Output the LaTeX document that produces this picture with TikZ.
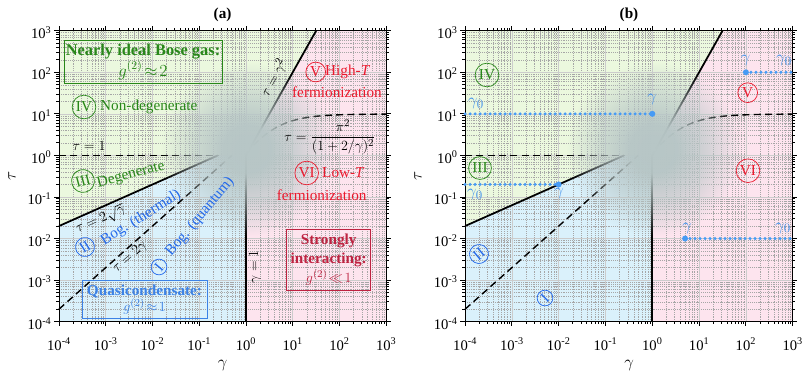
\documentclass[tikz,border=0pt]{standalone}
\usepackage{fontspec}
\setmainfont{Liberation Serif}
\usetikzlibrary{fadings}
\definecolor{grn}{RGB}{40,135,25}
\definecolor{blu}{RGB}{35,105,235}
\definecolor{redt}{RGB}{235,25,45}
\definecolor{boxred}{RGB}{190,35,65}
\definecolor{boxblu}{RGB}{60,130,230}
\definecolor{gfill}{RGB}{235,248,222}
\definecolor{bfill}{RGB}{218,241,251}
\definecolor{pfill}{RGB}{253,228,238}
\definecolor{blurcol}{RGB}{183,198,198}
\definecolor{bluedot}{RGB}{70,155,245}
\definecolor{bluelab}{RGB}{65,145,235}
\pgfdeclareradialshading{blurshade}{\pgfpointorigin}{rgb(0bp)=(1,1,1); rgb(7bp)=(0.97,0.97,0.97); rgb(15bp)=(0.6,0.6,0.6); rgb(25bp)=(0,0,0); rgb(50bp)=(0,0,0)}
\pgfdeclarefading{blurfade}{\pgfuseshading{blurshade}}
\tikzset{
  mingrid/.style={draw=gray!70, line width=0.3pt, dash pattern=on 0.4pt off 1.2pt},
  majgrid/.style={draw=gray!40, line width=0.5pt},
  solidc/.style={line width=1.5pt},
  dashc/.style={line width=1.2pt, dash pattern=on 2.1mm off 1.3mm},
  frame/.style={line width=0.8pt},
  ticklab/.style={font=\fontsize{12.5}{14}\selectfont, inner sep=0pt},
  rnum/.style={circle, draw=#1, text=#1, inner sep=0.5mm, line width=0.6pt},
  bdot/.style={draw=bluedot, line width=1mm, line cap=round, dash pattern=on 0pt off 1.5mm},
  lbox/.style={draw=#1, text=#1, line width=0.8pt, align=center, inner sep=0.5pt},
  glab/.style={text=bluelab, font=\fontsize{15}{17}\selectfont}
}
\newcommand\panelbase[1]{%
\fill[gfill] (-4,-1.699) -- (-0.602,0) -- (0,0) -- (1.5,3) -- (-4,3) -- cycle;
\fill[bfill] (-4,-4) -- (0,-4) -- (0,0) -- (-0.602,0) -- (-4,-1.699) -- cycle;
\fill[pfill] (0,-4) -- (3,-4) -- (3,3) -- (1.5,3) -- (0,0) -- cycle;
\foreach \k in {-4,...,2}{\foreach \m in {0.30103,0.47712,0.60206,0.69897,0.77815,0.8451,0.90309,0.95424}{%
  \draw[mingrid] (\k+\m,-4) -- (\k+\m,3);
  \draw[mingrid] (-4,\k+\m) -- (3,\k+\m);
  \draw[frame] (\k+\m,-4) -- ++(0pt,-0.8mm) (\k+\m,3) -- ++(0pt,0.8mm) (-4,\k+\m) -- ++(-0.8mm,0pt) (3,\k+\m) -- ++(0.8mm,0pt);
}}
\foreach \k in {-3,...,2}{\draw[majgrid] (\k,-4) -- (\k,3) (-4,\k) -- (3,\k);}
\draw[dashc] (-4,0) -- (-0.602,0);
\draw[dashc] (-4,-3.699) -- (-0.301,0);
\draw[dashc] plot[domain=0:3,samples=50,smooth] (\x,{0.99432-2*log10(1+2/pow(10,\x))});
\draw[solidc] (-4,-1.699) -- (-0.602,0);
\draw[solidc] (0,-4) -- (0,0);
\draw[solidc] (0,0) -- (1.5,3);
\fill[blurcol, path fading=blurfade] (0.03,0.15) circle (26mm);
\draw[frame] (-4,-4) rectangle (3,3);
\foreach \k in {-4,...,3}{%
  \draw[frame] (\k,-4) -- ++(0pt,-1.4mm) (\k,3) -- ++(0pt,1.4mm) (-4,\k) -- ++(-1.4mm,0pt) (3,\k) -- ++(1.4mm,0pt);
  \node[ticklab, anchor=base, yshift=-8.5mm] (#1x\k) at (\k,-4) {10\textsuperscript{\k}};
  \node[ticklab, anchor=base east, xshift=-2.2mm, yshift=-2.3mm] (#1y\k) at (-4,\k) {10\textsuperscript{\k}};
}}
\begin{document}
\begin{tikzpicture}[x=0.3mm,y=-0.3mm, every node/.style={font=\fontsize{13}{15}\selectfont}]
\useasboundingbox (0,0) rectangle (807,376);
% panel a
\begin{scope}[shift={(73.8mm,-46.62mm)},x=14.025mm,y=12.47mm]
\panelbase{a}
\end{scope}
% panel b
\begin{scope}[shift={(195.69mm,-46.62mm)},x=14.04mm,y=12.47mm]
\panelbase{b}
\draw[bdot] (-4,1) -- (0,1); \fill[bluedot] (0,1) circle (0.9mm);
\draw[bdot] (-4,-0.699) -- (-2,-0.699); \fill[bluedot] (-2,-0.699) circle (0.9mm);
\draw[bdot] (2,2) -- (3,2); \fill[bluedot] (2,2) circle (0.9mm);
\draw[bdot] (0.7,-2) -- (3,-2); \fill[bluedot] (0.7,-2) circle (0.9mm);
\end{scope}
% axis labels and titles
\node[font=\bfseries\fontsize{13}{15}\selectfont] (tita) at (222.6,15) {(a)};
\node[font=\bfseries\fontsize{13}{15}\selectfont] (titb) at (629,15) {(b)};
\node[font=\fontsize{14}{16}\selectfont] (xla) at (222.6,365) {$\gamma$};
\node[font=\fontsize{14}{16}\selectfont] (xlb) at (629,365) {$\gamma$};
\node[rotate=90, font=\fontsize{14}{16}\selectfont] (yla) at (12,176) {$\tau$};
\node[rotate=90, font=\fontsize{14}{16}\selectfont] (ylb) at (418,176) {$\tau$};
% panel a labels
\node[lbox=grn, minimum width=47.4mm, minimum height=12.9mm, font=\fontsize{14}{18}\selectfont] (nib) at (143,61.5) {\textbf{Nearly ideal Bose gas:}\\$g^{(2)}\!\approx\!2$};
\node[rnum=grn] (a4) at (84,107) {IV};
\node[anchor=west, text=grn, inner sep=0pt] (a4t) at (100,107) {Non-degenerate};
\node (at1) at (89,146) {$\tau=1$};
\node[rnum=grn, rotate=15] (a3) at (83,181) {III};
\node[text=grn, rotate=15] (a3t) at (131,175) {Degenerate};
\node[rotate=24] (asq) at (101,220) {$\tau=2\sqrt{\gamma}$};
\node[rnum=blu, rotate=32] (a2) at (85,247) {II};
\node[text=blu, rotate=32] (a2t) at (141,218) {Bog. (thermal)};
\node[rotate=41.6] (a2g) at (130,257) {$\tau=2\gamma$};
\node[rnum=blu, rotate=50] (a1) at (159,267) {I};
\node[text=blu, rotate=50] (a1t) at (200,217) {Bog. (quantum)};
\node[lbox=boxblu, minimum width=37.5mm, minimum height=11.5mm, font=\fontsize{13}{14}\selectfont] (qc) at (144.5,299.5) {\textbf{Quasicondensate:}\\$g^{(2)}\!\approx\!1$};
\node[rotate=90] (ag1) at (255,267) {$\gamma=1$};
\node[rotate=60.6] (agg) at (274,78) {$\tau=\gamma^2$};
\node[rnum=redt] (a5) at (315.7,72) {V};
\node[anchor=west, text=redt, inner sep=0pt] (a5t) at (325,72) {High-\textit{T}};
\node[text=redt] (a5f) at (337,92) {fermionization};
\node (api) at (330,137) {$\displaystyle\tau=\frac{\pi^2}{(1+2/\gamma)^2}$};
\node[rnum=redt] (a6) at (306.7,173) {VI};
\node[anchor=west, text=redt, inner sep=0pt] (a6t) at (322,173) {Low-\textit{T}};
\node[text=redt] (a6f) at (321.7,195) {fermionization};
\node[lbox=boxred, minimum width=25.2mm, minimum height=18.3mm, font=\fontsize{13}{16}\selectfont] (si) at (328.7,259.5) {\textbf{Strongly}\\\textbf{interacting:}\\$g^{(2)}\!\ll\!1$};
% panel b labels
\node[rnum=grn] (b4) at (487,75) {IV};
\node[rnum=grn] (b3) at (480,168) {III};
\node[rnum=blu, rotate=40] (b2) at (479,254) {II};
\node[rnum=blu, rotate=45] (b1) at (545,298) {I};
\node[rnum=redt] (b5) at (747.7,92.7) {V};
\node[rnum=redt] (b6) at (748,170.7) {VI};
\node[glab] (g01) at (476,104) {$\gamma_0$};
\node[glab] (g1) at (652,100) {$\gamma$};
\node[glab] (g02) at (475,195) {$\gamma_0$};
\node[glab] (g2) at (559,194) {$\gamma$};
\node[glab] (g3) at (745.7,61) {$\gamma$};
\node[glab] (g03) at (784,61) {$\gamma_0$};
\node[glab] (g4) at (687,228) {$\gamma$};
\node[glab] (g04) at (783,228) {$\gamma_0$};
\end{tikzpicture}
\end{document}
